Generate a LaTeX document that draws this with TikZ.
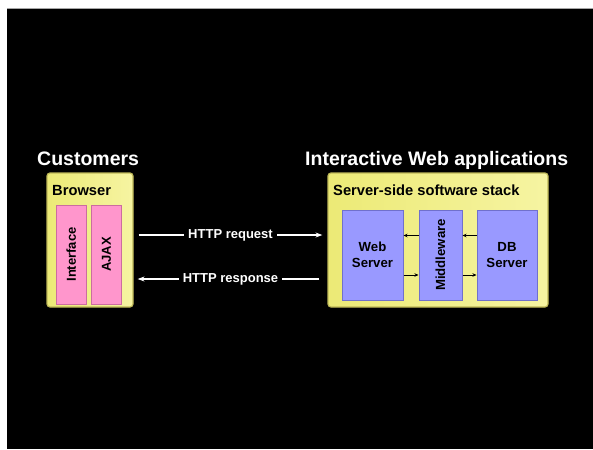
\documentclass[tikz,border=0pt]{standalone}
\usepackage{fontspec}
\setmainfont{Liberation Sans}
\usetikzlibrary{arrows.meta}
\definecolor{boxyellow}{RGB}{236,234,118}
\definecolor{boxyellowlight}{RGB}{246,244,162}
\definecolor{boxyellowedge}{RGB}{190,184,88}
\definecolor{boxpink}{RGB}{255,150,204}
\definecolor{boxpinkedge}{RGB}{204,108,160}
\definecolor{boxblue}{RGB}{153,153,255}
\definecolor{boxblueedge}{RGB}{112,112,204}
\begin{document}
\begin{tikzpicture}[x=1pt,y=-1pt,
  headline/.style={text=white, font=\bfseries\fontsize{19.5}{22}\selectfont, inner sep=0pt},
  groupbox/.style={draw=boxyellowedge, line width=1.2pt, rounded corners=3pt,
    left color=boxyellow, right color=boxyellowlight, inner sep=0pt},
  grouplabel/.style={font=\bfseries\fontsize{14.7}{17}\selectfont, inner sep=0pt},
  pinkbox/.style={draw=boxpinkedge, line width=1pt, fill=boxpink, inner sep=0pt,
    font=\bfseries\fontsize{13}{16}\selectfont},
  bluebox/.style={draw=boxblueedge, line width=1pt, fill=boxblue, inner sep=0pt,
    align=center, font=\bfseries\fontsize{13.2}{16}\selectfont},
  http/.style={draw=white, line width=1.3pt, -{Stealth[length=7pt,width=5pt]}},
  httplabel/.style={fill=black, text=white, inner xsep=4pt, inner ysep=2pt,
    font=\bfseries\fontsize{13}{16}\selectfont},
  stackarrow/.style={draw=black, line width=0.8pt, -{Stealth[length=4pt,width=3.5pt]}}
]
\fill[white] (0,0) rectangle (593,449);
\useasboundingbox (0,0) rectangle (593,449);
\fill[black] (7,9) rectangle (593,449);
\draw[gray!70, line width=1pt] (7,8.5) -- (593,8.5);

% customers side
\node[headline, anchor=base west] (cust) at (37,165) {Customers};
\node[groupbox, minimum width=86pt, minimum height=134pt] (browser) at (90,240) {};
\node[grouplabel, anchor=base west] (browserlbl) at (52,195) {Browser};
\node[pinkbox, rotate=90, minimum width=99pt, minimum height=29.5pt] (iface) at (71.25,254.5) {Interface};
\node[pinkbox, rotate=90, minimum width=99pt, minimum height=30pt] (ajax) at (106.5,254.5) {AJAX};

% application side
\node[headline, anchor=base west] (apps) at (305,165) {Interactive Web applications};
\node[groupbox, minimum width=220pt, minimum height=134pt] (server) at (438,240) {};
\node[grouplabel, anchor=base west] (serverlbl) at (333,195) {Server-side software stack};
\node[bluebox, minimum width=61pt, minimum height=90pt] (web) at (372.5,255) {Web\\Server};
\node[bluebox, rotate=90, minimum width=90pt, minimum height=43pt] (mid) at (440.5,255) {Middleware};
\node[bluebox, minimum width=60pt, minimum height=90pt] (db) at (507,255) {DB\\Server};

% requests and responses
\draw[http, shorten <=5pt, shorten >=5pt] (browser.east |- 0,235) -- node[httplabel] {HTTP request} (server.west |- 0,235);
\draw[http, shorten <=8pt, shorten >=4pt] (server.west |- 0,279) -- node[httplabel] {HTTP response} (browser.east |- 0,279);

% inside the stack
\draw[stackarrow] (mid.north |- 0,235.5) -- (web.east |- 0,235.5);
\draw[stackarrow] (web.east |- 0,275) -- (mid.north |- 0,275);
\draw[stackarrow] (db.west |- 0,235.5) -- (mid.south |- 0,235.5);
\draw[stackarrow] (mid.south |- 0,275) -- (db.west |- 0,275);
\end{tikzpicture}
\end{document}
